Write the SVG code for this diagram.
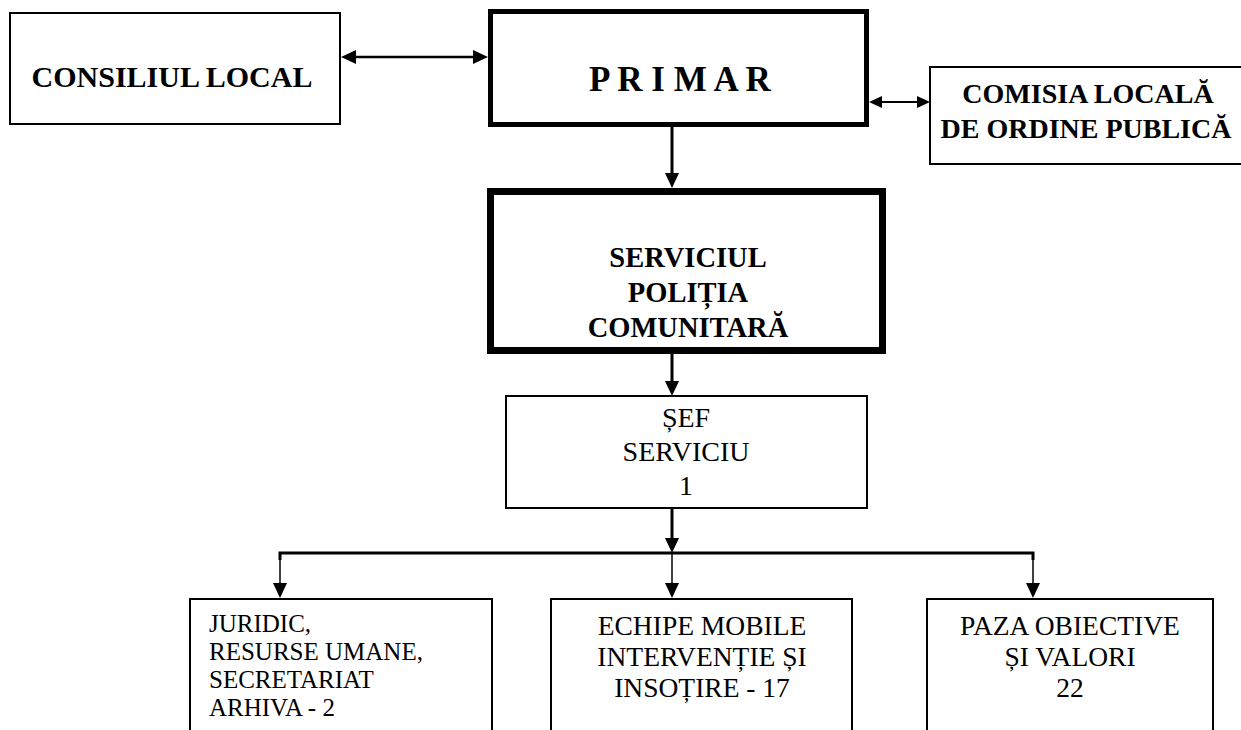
<svg xmlns="http://www.w3.org/2000/svg" width="1241" height="730" viewBox="0 0 1241 730">
<style>
.box{fill:#fff;stroke:#000}
.b{font-family:"Liberation Serif","Times New Roman",serif;font-weight:bold;fill:#000}
.r{font-family:"Liberation Serif","Times New Roman",serif;fill:#000}
.c{text-anchor:middle}
.ln{fill:none;stroke:#000}
</style>
<defs>
<marker id="ah" markerUnits="userSpaceOnUse" markerWidth="15" markerHeight="14" viewBox="0 0 15 14" refX="7" refY="7" orient="auto-start-reverse">
<path d="M0,0 L15,7 L0,14 z" fill="#000"/>
</marker>
<marker id="ahs" markerUnits="userSpaceOnUse" markerWidth="13" markerHeight="12" viewBox="0 0 13 12" refX="6" refY="6" orient="auto-start-reverse">
<path d="M0,0 L13,6 L0,12 z" fill="#000"/>
</marker>
</defs>
<rect width="1241" height="730" fill="#fff"/>
<g id="connectors">
<line class="ln" x1="349" y1="57" x2="480" y2="57" stroke-width="2.5" marker-start="url(#ah)" marker-end="url(#ah)"/>
<line class="ln" x1="876" y1="102" x2="923" y2="102" stroke-width="2" marker-start="url(#ahs)" marker-end="url(#ahs)"/>
<line class="ln" x1="672" y1="127" x2="672" y2="180" stroke-width="3" marker-end="url(#ah)"/>
<line class="ln" x1="672" y1="354" x2="672" y2="388" stroke-width="3" marker-end="url(#ah)"/>
<line class="ln" x1="672" y1="508" x2="672" y2="545" stroke-width="3" marker-end="url(#ah)"/>
<polyline class="ln" points="280,560 280,553 1033,553 1033,560" stroke-width="3" stroke-linejoin="miter"/>
<line class="ln" x1="280" y1="553" x2="280" y2="590" stroke-width="1.5" marker-end="url(#ah)"/>
<line class="ln" x1="672" y1="553" x2="672" y2="590" stroke-width="1.5" marker-end="url(#ah)"/>
<line class="ln" x1="1033" y1="553" x2="1033" y2="590" stroke-width="1.5" marker-end="url(#ah)"/>
</g>
<g id="consiliul">
<rect class="box" x="10" y="13" width="330" height="111" stroke-width="2"/>
<text class="b c" x="172" y="87" font-size="30">CONSILIUL LOCAL</text>
</g>
<g id="primar">
<rect class="box" x="490.5" y="11.5" width="376" height="113" stroke-width="5"/>
<text class="b c" x="680" y="91" font-size="35">P R I M A R</text>
</g>
<g id="comisia">
<rect class="box" x="930" y="67" width="330" height="97" stroke-width="2"/>
<text class="b c" x="1088" y="103" font-size="28">COMISIA LOCALĂ</text>
<text class="b c" x="1086" y="138" font-size="28">DE ORDINE PUBLICĂ</text>
</g>
<g id="serviciul">
<rect class="box" x="490.5" y="191.5" width="392" height="159" stroke-width="7"/>
<text class="b c" x="688" y="267" font-size="28.5">SERVICIUL</text>
<text class="b c" x="688" y="302" font-size="28.5">POLIȚIA</text>
<text class="b c" x="688" y="337" font-size="28.5">COMUNITARĂ</text>
</g>
<g id="sef">
<rect class="box" x="506" y="396" width="361" height="112" stroke-width="2"/>
<text class="r c" x="686" y="427" font-size="28">ȘEF</text>
<text class="r c" x="686" y="461" font-size="28">SERVICIU</text>
<text class="r c" x="686" y="495" font-size="28">1</text>
</g>
<g id="juridic">
<rect class="box" x="190" y="599" width="302" height="150" stroke-width="2"/>
<text class="r" x="209" y="632" font-size="25">JURIDIC,</text>
<text class="r" x="209" y="660" font-size="25">RESURSE UMANE,</text>
<text class="r" x="209" y="688" font-size="25">SECRETARIAT</text>
<text class="r" x="209" y="716" font-size="25">ARHIVA - 2</text>
</g>
<g id="echipe">
<rect class="box" x="551" y="599" width="301" height="150" stroke-width="2"/>
<text class="r c" x="702" y="635" font-size="27.5">ECHIPE MOBILE</text>
<text class="r c" x="702" y="666" font-size="27.5">INTERVENȚIE ȘI</text>
<text class="r c" x="702" y="697" font-size="27.5">INSOȚIRE - 17</text>
</g>
<g id="paza">
<rect class="box" x="927" y="599" width="286" height="150" stroke-width="2"/>
<text class="r c" x="1070" y="635" font-size="27.5">PAZA OBIECTIVE</text>
<text class="r c" x="1070" y="666" font-size="27.5">ȘI VALORI</text>
<text class="r c" x="1070" y="697" font-size="27.5">22</text>
</g>
</svg>
